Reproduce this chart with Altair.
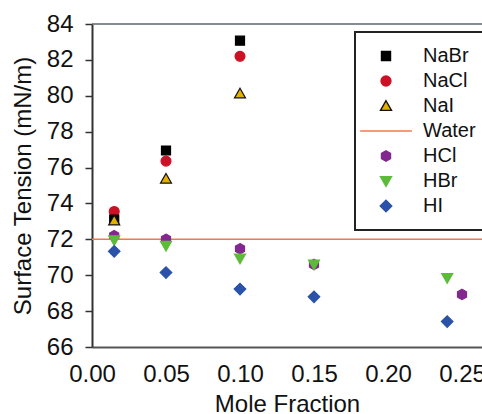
import altair as alt
import pandas as pd

# Surface tension of aqueous salt and acid solutions vs. mole fraction
mole_nabr = [0.015, 0.05, 0.10]
st_nabr = [73.1, 76.95, 83.07]

mole_nacl = [0.015, 0.05, 0.10]
st_nacl = [73.55, 76.36, 82.2]

mole_nai = [0.015, 0.05, 0.10]
st_nai = [73.05, 75.38, 80.13]

mole_hcl = [0.015, 0.05, 0.10, 0.15, 0.25]
st_hcl = [72.2, 72.0, 71.47, 70.6, 68.93]

mole_hbr = [0.015, 0.05, 0.10, 0.15, 0.24]
st_hbr = [71.95, 71.64, 70.93, 70.6, 69.84]

mole_hi = [0.015, 0.05, 0.10, 0.15, 0.24]
st_hi = [71.33, 70.15, 69.23, 68.8, 67.42]

water_level = [72.0]
frame_top = [84.0]

series_order = ["NaBr", "NaCl", "NaI", "Water", "HCl", "HBr", "HI"]
fill_colors = ["#000000", "#cc1126", "#e2b100", "#f07a4e", "#82288f", "#5dbb3a", "#2a52a8"]
stroke_colors = ["#000000", "#cc1126", "#111111", "#f07a4e", "#82288f", "#5dbb3a", "#2a52a8"]
shape_paths = [
    "M-0.82,-0.82L0.82,-0.82L0.82,0.82L-0.82,0.82Z",
    "M-0.9,0A0.9,0.9,0,1,0,0.9,0A0.9,0.9,0,1,0,-0.9,0Z",
    "M0,-0.95L1,0.8L-1,0.8Z",
    "M-4.7,0L4.7,0",
    "M0,-0.95L0.82,-0.48L0.82,0.48L0,0.95L-0.82,0.48L-0.82,-0.48Z",
    "M-1,-0.8L1,-0.8L0,0.95Z",
    "M-1.05,0L0,-1.05L1.05,0L0,1.05Z",
]

# draw order: later rows sit on top
groups = [
    ("NaCl", mole_nacl, st_nacl),
    ("NaBr", mole_nabr, st_nabr),
    ("NaI", mole_nai, st_nai),
    ("HCl", mole_hcl, st_hcl),
    ("HBr", mole_hbr, st_hbr),
    ("HI", mole_hi, st_hi),
]
rows = []
for name, xs, ys in groups:
    for xv, yv in zip(xs, ys):
        rows.append({"series": name, "mole": xv, "tension": yv})
points_df = pd.DataFrame(rows)

FONT = "Liberation Sans"
X_MAX = 390 / 1480  # right edge of the visible plot area

x_scale = alt.Scale(domain=[0, X_MAX], nice=False, zero=False)
y_scale = alt.Scale(domain=[66, 84], nice=False, zero=False)

x_axis = alt.Axis(
    values=[0.0, 0.05, 0.10, 0.15, 0.20, 0.25], format=".2f",
    ticks=False, tickSize=0, grid=False, labelFlush=False, labelOverlap=False,
    labelFontSize=24, labelFont=FONT, labelColor="#111", labelPadding=15,
    title="Mole Fraction", titleFontSize=24, titleFont=FONT,
    titleFontWeight="normal", titleColor="#111", titlePadding=6,
    domainColor="#555", domainWidth=2,
)
y_axis = alt.Axis(
    values=[66, 68, 70, 72, 74, 76, 78, 80, 82, 84], grid=False,
    labelFlush=False, labelOverlap=False,
    ticks=True, tickSize=7, tickColor="#333", tickWidth=1.5,
    labelFontSize=24, labelFont=FONT, labelColor="#111", labelPadding=12,
    title="Surface Tension (mN/m)", titleFontSize=24, titleFont=FONT,
    titleFontWeight="normal", titleColor="#111", titlePadding=11,
    domainColor="#333", domainWidth=2,
)

legend = alt.Legend(
    title=None, orient="none", legendX=263, legendY=8,
    labelFontSize=20, labelFont=FONT, labelColor="#111",
    strokeColor="#222", fillColor="white",
    padding=14, rowPadding=5, symbolOffset=7, labelOffset=27,
    symbolSize=121, symbolStrokeWidth=1.4,
)

frame = alt.Chart(pd.DataFrame({"y": frame_top})).mark_rule(
    color="#5a6670", strokeWidth=1.5
).encode(y=alt.Y("y:Q", scale=y_scale, axis=y_axis))

water = alt.Chart(pd.DataFrame({"y": water_level})).mark_rule(
    color="#f07a4e", strokeWidth=1.5
).encode(y=alt.Y("y:Q", scale=y_scale, axis=y_axis))

points = alt.Chart(points_df).mark_point(
    filled=True, size=121, strokeWidth=1.2, opacity=1
).encode(
    x=alt.X("mole:Q", scale=x_scale, axis=x_axis),
    y=alt.Y("tension:Q", scale=y_scale, axis=y_axis),
    fill=alt.Fill("series:N", scale=alt.Scale(domain=series_order, range=fill_colors), legend=legend),
    stroke=alt.Stroke("series:N", scale=alt.Scale(domain=series_order, range=stroke_colors), legend=legend),
    shape=alt.Shape("series:N", scale=alt.Scale(domain=series_order, range=shape_paths), legend=legend),
)

chart = alt.layer(frame, water, points).properties(
    width=390, height=323,
    autosize=alt.AutoSizeParams(type="none"),
    padding={"left": 92, "top": 24, "right": 0, "bottom": 67},
    background="white",
).configure_view(stroke=None).configure_legend(strokeWidth=2)

chart.save("out.html", embed_options={"renderer": "svg", "actions": False})
